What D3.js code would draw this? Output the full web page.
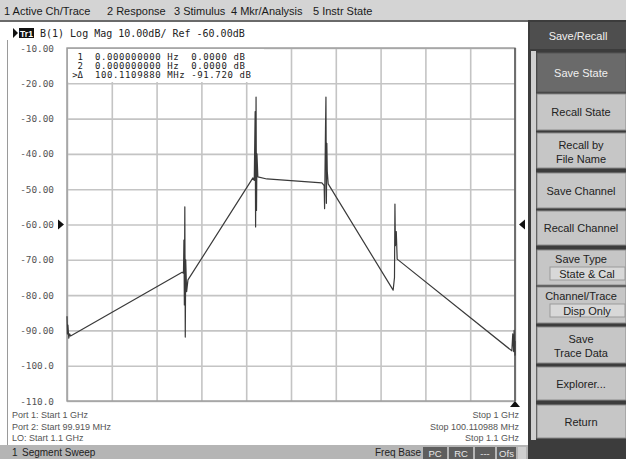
<!DOCTYPE html>
<html><head><meta charset="utf-8">
<script src="https://cdn.jsdelivr.net/npm/d3@7"></script>
<style>
body{margin:0;background:#d6d6d6;overflow:hidden}
svg{display:block}
text{font-family:"Liberation Sans",Arial,sans-serif}
.mono{font-family:"DejaVu Sans Mono","Liberation Mono",monospace}
</style></head><body>
<svg id="c" width="626" height="459"></svg>
<script>
// ---------- data ----------
const menuItems = ["1 Active Ch/Trace","2 Response","3 Stimulus","4 Mkr/Analysis","5 Instr State"];
const titleText = "B(1) Log Mag 10.00dB/ Ref -60.00dB";
const yTicks = [-10,-20,-30,-40,-50,-60,-70,-80,-90,-100,-110];
const yTickLabels = ["-10.00","-20.00","-30.00","-40.00","-50.00","-60.00","-70.00","-80.00","-90.00","-100.0","-110.0"];
const xDivisions = [0,1,2,3,4,5,6,7,8,9,10];
const markerIds = ["1","2",">\u0394"];
const markerRows = ["0.000000000 Hz  0.0000 dB","0.000000000 Hz  0.0000 dB","100.1109880 MHz -91.720 dB"];
// trace: position in divisions (0..10) and level in dB
const traceX = [0.00,0.01,0.02,0.04,0.06,0.08, 2.57,2.60,2.61,2.62,2.63,2.64,2.65,2.67,2.70, 4.15,4.18,4.20,4.21,4.22,4.23,4.24,4.26,4.46, 5.69,5.74,5.75,5.77,5.78,5.79,5.80,5.81,5.83, 7.28,7.31,7.32,7.33,7.35,7.37, 9.93,9.95,9.97,9.98,10.0,10.0];
const traceY = [-86.0,-91.0,-88.5,-92.2,-91.0,-91.6, -73.5,-73.8,-64.4,-82.8,-55.0,-91.9,-70.0,-79.0,-75.7, -46.8,-47.5,-28.0,-60.7,-23.9,-56.0,-40.0,-46.5,-47.1, -48.2,-49.0,-55.5,-33.0,-23.9,-54.0,-37.0,-45.0,-48.5, -78.6,-75.0,-54.2,-66.0,-62.0,-69.8, -95.8,-91.0,-96.0,-90.0,-97.0,-93.0];
const leftFooter = ["Port 1: Start 1 GHz","Port 2: Start 99.919 MHz","LO: Start 1.1 GHz"];
const rightFooter = ["Stop 1 GHz","Stop 100.110988 MHz","Stop 1.1 GHz"];
const statusBoxes = ["PC","RC","---","Ofs"];
const softkeys = [
  {lines:["Save State"],dark:true},
  {lines:["Recall State"]},
  {lines:["Recall by","File Name"]},
  {lines:["Save Channel"]},
  {lines:["Recall Channel"]},
  {lines:["Save Type"],sub:"State & Cal"},
  {lines:["Channel/Trace"],sub:"Disp Only"},
  {lines:["Save","Trace Data"]},
  {lines:["Explorer..."]},
  {lines:["Return"]}
];
const softkeyTops = [53,94,133,173,211,250,287,327,367,405];
const softkeyBottoms = [92,130,168,208,245,285,323,363,400,438];

// ---------- drawing ----------
const svg = d3.select("#c");
// menu bar
svg.append("rect").attr("x",0).attr("y",0).attr("width",626).attr("height",21).attr("fill","#d4d4d4");
const menuX = [4,107,174,231,313];
svg.selectAll("text.menu").data(menuItems).join("text").attr("class","menu")
  .attr("x",(d,i)=>menuX[i]).attr("y",15).attr("font-size",11).attr("fill","#1a1a1a").text(d=>d);
svg.append("rect").attr("x",0).attr("y",20).attr("width",528).attr("height",2).attr("fill","#6a6a6a");
// main white window
svg.append("rect").attr("x",0).attr("y",22).attr("width",528).attr("height",423).attr("fill","#ffffff");
svg.append("line").attr("x1",7.5).attr("x2",7.5).attr("y1",40).attr("y2",445).attr("stroke","#9a9a9a").attr("stroke-width",1);

// title line
svg.append("path").attr("d","M13,28 L18,33 L13,38 Z").attr("fill","#111");
svg.append("rect").attr("x",19).attr("y",28).attr("width",15).attr("height",10).attr("fill","#111");
svg.append("text").attr("x",26.5).attr("y",36.5).attr("text-anchor","middle").attr("font-size",8.5).attr("font-weight","bold").attr("fill","#fff").text("Tr1");
svg.append("text").attr("class","mono").attr("x",40).attr("y",37).attr("font-size",10).attr("fill","#222").text(titleText);

// scales
const x = d3.scaleLinear().domain([0,10]).range([67,515]);
const y = d3.scaleLinear().domain([-10,-110]).range([48,401]);

// grid
const grid = svg.append("g");
grid.append("g").attr("transform","translate(0,401)")
  .call(d3.axisBottom(x).tickValues(xDivisions).tickSize(-353).tickFormat(""))
  .call(g=>g.select(".domain").remove())
  .call(g=>g.selectAll("line").attr("stroke","#c4c4c4").attr("stroke-width",1.6));
grid.append("g").attr("transform","translate(67,0)")
  .call(d3.axisLeft(y).tickValues(yTicks).tickSize(-448).tickFormat(""))
  .call(g=>g.select(".domain").remove())
  .call(g=>g.selectAll("line").attr("stroke","#c4c4c4").attr("stroke-width",1.6));
// frame
svg.append("rect").attr("x",67).attr("y",48).attr("width",448).attr("height",353)
  .attr("fill","none").attr("stroke","#9c9c9c").attr("stroke-width",1.4);
svg.append("line").attr("x1",515).attr("x2",515).attr("y1",48).attr("y2",401).attr("stroke","#555").attr("stroke-width",1.4);

// marker table (white box over top row)
svg.append("rect").attr("x",68).attr("y",49).attr("width",196).attr("height",33).attr("fill","#fff");
svg.selectAll("text.mid").data(markerIds).join("text").attr("class","mono mid")
  .attr("x",83).attr("y",(d,i)=>59.5+i*9.3).attr("text-anchor","end").attr("font-size",9).attr("fill","#222").text(d=>d);
svg.selectAll("text.mrow").data(markerRows).join("text").attr("class","mono mrow")
  .attr("x",95).attr("y",(d,i)=>59.5+i*9.3).attr("font-size",9).attr("letter-spacing",0.6).attr("fill","#222")
  .attr("xml:space","preserve").style("white-space","pre").text(d=>d);

// y labels
svg.append("g").attr("transform","translate(57,0)")
  .call(d3.axisLeft(y).tickValues(yTicks).tickSize(0).tickFormat((d,i)=>yTickLabels[i]))
  .call(g=>g.select(".domain").remove())
  .call(g=>g.selectAll("text").attr("class","mono").attr("font-size",9.4).attr("fill","#555").attr("dx",0));

// reference triangles
svg.append("path").attr("d",`M58,${y(-60)-5} L64,${y(-60)} L58,${y(-60)+5} Z`).attr("fill","#111");
svg.append("path").attr("d",`M525,${y(-60)-5} L519,${y(-60)} L525,${y(-60)+5} Z`).attr("fill","#111");
svg.append("path").attr("d",`M${x(10)},401 L${x(10)+5},407 L${x(10)-5},407 Z`).attr("fill","#111");

// trace
const pts = traceX.map((v,i)=>[v,traceY[i]]);
svg.append("path").datum(pts)
  .attr("d",d3.line().x(d=>x(d[0])).y(d=>y(d[1])))
  .attr("fill","none").attr("stroke","#3a3a3a").attr("stroke-width",1.2).attr("stroke-linejoin","round");

// footers
svg.selectAll("text.lf").data(leftFooter).join("text").attr("class","lf")
  .attr("x",12).attr("y",(d,i)=>418+i*11.5).attr("font-size",9).attr("fill","#555").text(d=>d);
svg.selectAll("text.rf").data(rightFooter).join("text").attr("class","rf")
  .attr("x",519).attr("y",(d,i)=>418+i*11.5).attr("text-anchor","end").attr("font-size",9).attr("fill","#555").text(d=>d);

// status bar
svg.append("rect").attr("x",0).attr("y",445).attr("width",528).attr("height",14).attr("fill","#b5b5b5");
svg.append("text").attr("x",12).attr("y",456).attr("font-size",10).attr("fill","#222").text("1");
svg.append("text").attr("x",22).attr("y",456).attr("font-size",10).attr("fill","#222").text("Segment Sweep");
svg.append("text").attr("x",375).attr("y",456).attr("font-size",10).attr("fill","#222").text("Freq Base");
const boxX=[423,449,475,497], boxW=[24,24,20,19];
statusBoxes.forEach((s,i)=>{
  svg.append("rect").attr("x",boxX[i]).attr("y",447).attr("width",boxW[i]).attr("height",12).attr("fill","#5e5e5e");
  svg.append("text").attr("x",boxX[i]+boxW[i]/2).attr("y",456.5).attr("text-anchor","middle").attr("font-size",9.5).attr("fill","#e8e8e8").text(s);
});
svg.append("rect").attr("x",518).attr("y",447).attr("width",8).attr("height",12).attr("fill","#cfcfcf");

// right panel
svg.append("rect").attr("x",528).attr("y",20).attr("width",98).attr("height",439).attr("fill","#3c3c3c");
svg.append("rect").attr("x",530).attr("y",22).attr("width",96).attr("height",27).attr("fill","#4e4e4e");
svg.append("text").attr("x",578).attr("y",40).attr("text-anchor","middle").attr("font-size",11).attr("fill","#f0f0f0").text("Save/Recall");
svg.append("rect").attr("x",531).attr("y",51).attr("width",5).attr("height",389).attr("fill","#d0d0d0");
softkeys.forEach((k,i)=>{
  const t=softkeyTops[i], b=softkeyBottoms[i], h=b-t;
  svg.append("rect").attr("x",537).attr("y",t).attr("width",89).attr("height",h)
    .attr("fill",k.dark?"#6a6a6a":"#c6c6c6").attr("stroke",k.dark?"#555":"#8a8a8a").attr("stroke-width",1);
  const col = k.dark?"#f0f0f0":"#222";
  const cx=581;
  if(k.sub){
    svg.append("text").attr("x",cx).attr("y",t+13).attr("text-anchor","middle").attr("font-size",11).attr("fill",col).text(k.lines[0]);
    svg.append("rect").attr("x",550).attr("y",t+17).attr("width",75).attr("height",13).attr("fill","#d8d8d8").attr("stroke","#9a9a9a");
    svg.append("text").attr("x",587).attr("y",t+27.5).attr("text-anchor","middle").attr("font-size",11).attr("fill",col).text(k.sub);
  } else if(k.lines.length===2){
    svg.append("text").attr("x",cx).attr("y",t+h/2-2).attr("text-anchor","middle").attr("font-size",11).attr("fill",col).text(k.lines[0]);
    svg.append("text").attr("x",cx).attr("y",t+h/2+12).attr("text-anchor","middle").attr("font-size",11).attr("fill",col).text(k.lines[1]);
  } else {
    svg.append("text").attr("x",cx).attr("y",t+h/2+4).attr("text-anchor","middle").attr("font-size",11).attr("fill",col).text(k.lines[0]);
  }
});
</script>
</body></html>
